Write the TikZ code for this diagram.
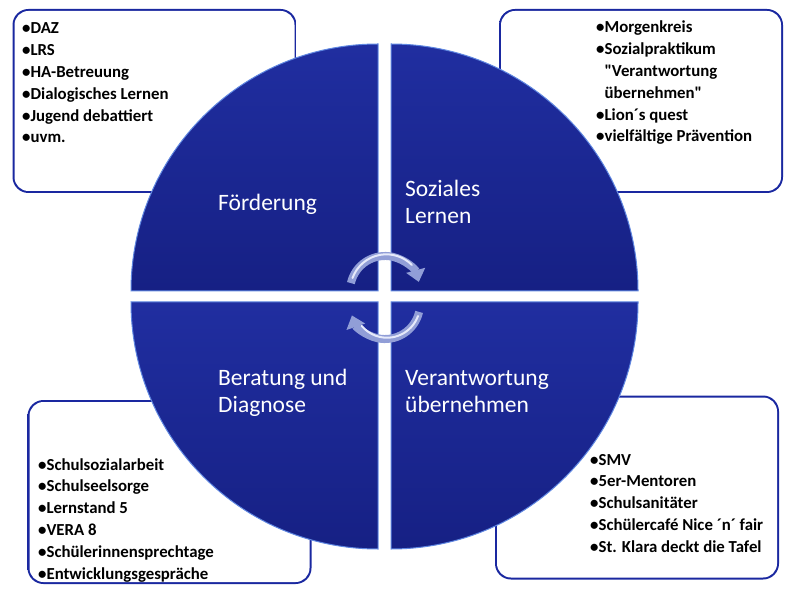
\documentclass[tikz,border=0pt]{standalone}
\usepackage{fontspec}
\setmainfont{Carlito}
\usetikzlibrary{arrows.meta}

\font\quotebold="Carlito/B" at 16.8pt
\newcommand\plainquote{{\quotebold\char34}}

\definecolor{quadtop}{RGB}{32,46,160}
\definecolor{quadbot}{RGB}{22,32,132}
\definecolor{quadrim}{RGB}{95,135,225}
\definecolor{rimdark}{RGB}{26,40,160}
\definecolor{rimlight}{RGB}{175,220,242}
\definecolor{arrowbody}{RGB}{145,158,215}
\definecolor{arrowshine}{RGB}{230,234,250}
\pgfdeclarehorizontalshading{boxrim}{100bp}{color(0bp)=(rimdark); color(94bp)=(rimdark); color(100bp)=(rimlight)}

\begin{document}
\begin{tikzpicture}[
  x=1pt, y=1pt,
  rimbox/.style={shade, shading=boxrim, rounded corners=16pt, minimum width=284pt, minimum height=184pt, inner sep=0pt},
  innerbox/.style={fill=white, rounded corners=14pt, minimum width=280pt, minimum height=180pt, inner sep=0pt},
  quad/.style={top color=quadtop, bottom color=quadbot, draw=quadrim, line width=1pt},
  items/.style={anchor=base west, align=left, inner sep=0pt, font=\fontsize{16.8}{21.8}\selectfont\bfseries},
  qlabel/.style={anchor=base west, align=left, inner sep=0pt, text=white, font=\fontsize{23.5}{27}\selectfont},
  cyc/.style={draw=arrowbody, line width=8pt, -{Triangle[width=19pt,length=12pt]}},
  shine/.style={draw=arrowshine, line width=2pt, line cap=round}
]
\useasboundingbox (0,0) rectangle (797,600);

% Boxes behind the circle
\node[rimbox] (rimF) at (154.5,499) {};
\node[innerbox] (boxF) at (rimF.center) {};
\node[rimbox] (rimS) at (641,499) {};
\node[innerbox] (boxS) at (rimS.center) {};
\node[rimbox] (rimB) at (169.5,108) {};
\node[innerbox] (boxB) at (rimB.center) {};
\node[rimbox] (rimV) at (637,112.5) {};
\node[innerbox] (boxV) at (rimV.center) {};

% Box texts (anchored at the baseline of the last line)
\node[items] (listF) at (22,457) {•DAZ\\•LRS\\•HA-Betreuung\\•Dialogisches Lernen\\•Jugend debattiert\\•uvm.};
\node[items] (listS) at (596,458) {•Morgenkreis\\•Sozialpraktikum\\\hphantom{•}\plainquote Verantwortung\\\hphantom{•}übernehmen\plainquote\\•Lion´s quest\\•vielfältige Prävention};
\node[items] (listB) at (38,21) {•Schulsozialarbeit\\•Schulseelsorge\\•Lernstand 5\\•VERA 8\\•Schülerinnensprechtage\\•Entwicklungsgespräche};
\node[items] (listV) at (590,47.8) {•SMV\\•5er-Mentoren\\•Schulsanitäter\\•Schülercafé Nice ´n´ fair\\•St. Klara deckt die Tafel};

% Quarter circles
\path[quad] (378,309) -- (131,309) arc[start angle=180, end angle=90, radius=247pt] -- cycle;
\path[quad] (391,309) -- (391,556) arc[start angle=90, end angle=0, radius=247pt] -- cycle;
\path[quad] (378,298) -- (378,51) arc[start angle=270, end angle=180, radius=247pt] -- cycle;
\path[quad] (391,298) -- (638,298) arc[start angle=0, end angle=-90, radius=247pt] -- cycle;

% Quadrant labels
\node[qlabel] (labF) at (218,389) {Förderung};
\node[qlabel] (labS) at (405,376) {Soziales\\Lernen};
\node[qlabel] (labB) at (218,188) {Beratung und\\Diagnose};
\node[qlabel] (labV) at (405,188) {Verantwortung\\übernehmen};

% Cycle arrows
\coordinate (cycTop) at (350.9,316.9);
\coordinate (cycBot) at (419.1,288.1);
\draw[cyc] (cycTop) arc[start angle=167, end angle=15, radius=35pt];
\draw[cyc] (cycBot) arc[start angle=-13, end angle=-161, radius=35pt];
\draw[shine] (352.5,322) arc[start angle=160, end angle=45, radius=36pt];
\draw[shine] (418,284) arc[start angle=-20, end angle=-140, radius=33pt];
\end{tikzpicture}
\end{document}
